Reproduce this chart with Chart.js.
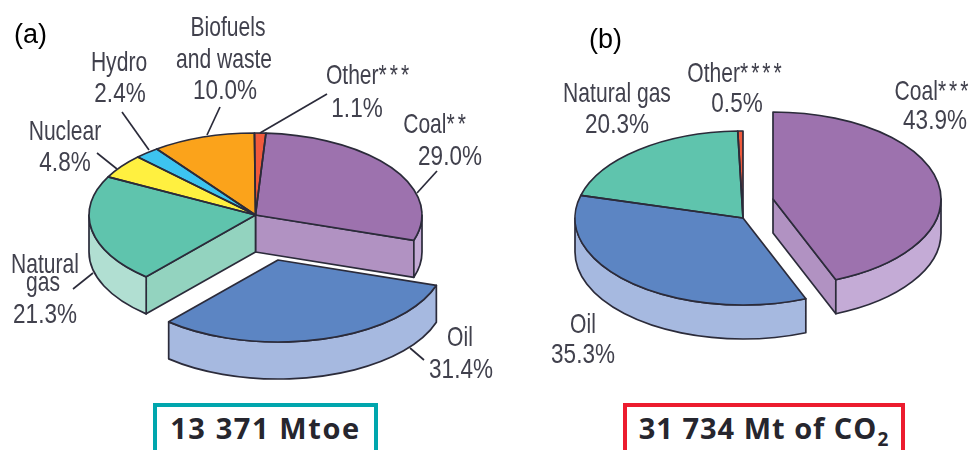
<!DOCTYPE html>
<html>
<head>
<meta charset="utf-8">
<title>Fuel shares</title>
<script src="https://cdn.jsdelivr.net/npm/chart.js@4"></script>
<style>
html, body { margin: 0; padding: 0; background: #fff; overflow: hidden; }
#page { position: relative; width: 975px; height: 450px; overflow: hidden; }
canvas { position: absolute; top: 0; }
#overlay { position: absolute; left: 0; top: 0; }
.lbl { font-family: "Liberation Sans", sans-serif; font-size: 28.5px; fill: #41414d; text-anchor: middle; }
.tag { font-family: "Liberation Sans", sans-serif; font-size: 27px; fill: #000; }
.total { position: absolute; top: 403px; height: 60px; box-sizing: border-box; background: #fff;
  font-family: "Open Sans", "Noto Sans", sans-serif; font-weight: 700; font-size: 29px; color: #26262e;
  text-align: center; line-height: 42px; letter-spacing: 1px; white-space: nowrap; }
.total sub { font-size: 19px; line-height: 0; }
</style>
</head>
<body>
<div id="page">
  <canvas id="pieA" width="511" height="450" style="left:0"></canvas>
  <canvas id="pieB" width="460" height="450" style="left:513px"></canvas>
  <svg id="overlay" width="975" height="450"></svg>
  <div class="total" style="left:153px;width:225px;border:4px solid #00a6ad;letter-spacing:1.6px">13 371 Mtoe</div>
  <div class="total" style="left:623px;width:282px;border:4px solid #ec1c2e">31 734 Mt of CO<sub>2</sub></div>
</div>
<script>
// (a) total primary energy supply
var categoriesA = ['Coal**', 'Oil', 'Natural gas', 'Nuclear', 'Hydro', 'Biofuels and waste', 'Other***'];
var valuesA = [29.0, 31.4, 21.3, 4.8, 2.4, 10.0, 1.1];
var coloursA = ['#9d72ae', '#5c85c3', '#5fc4ad', '#fff040', '#3dc4f0', '#fba31b', '#f05a3c'];
var wallsA = ['#c4abd6', '#a6b9e0', '#b1dfd2', '#fff040', '#3dc4f0', '#fba31b', '#f05a3c'];
var cutsA = ['#b192c2', '#a6b9e0', '#93d3bf', '#fff040', '#3dc4f0', '#fba31b', '#f05a3c'];

// (b) CO2 emissions
var categoriesB = ['Coal***', 'Oil', 'Natural gas', 'Other****'];
var valuesB = [43.9, 35.3, 20.3, 0.5];
var coloursB = ['#9d72ae', '#5c85c3', '#5fc4ad', '#f05a3c'];
var wallsB = ['#c4abd6', '#a6b9e0', '#b1dfd2', '#f05a3c'];
var cutsB = ['#b192c2', '#a6b9e0', '#93d3bf', '#f05a3c'];

var OUTLINE = '#2b2b3a';
var OUTLINE_W = 1.7;

// squashes the flat pie into an ellipse and gives it a wall, all from the arc elements
function pie3d(cfg) {
    function centre(chart) {
        return (chart.chartArea.top + chart.chartArea.bottom) / 2;
    }
    function tracePath(ctx, chart, arc) {
        var x = arc.x;
        var y = cfg.cy + (arc.y - centre(chart)) * cfg.k;
        ctx.beginPath();
        ctx.moveTo(x, y);
        ctx.ellipse(x, y, arc.outerRadius, arc.outerRadius * cfg.k, 0, arc.startAngle, arc.endAngle);
        ctx.closePath();
    }
    function drawSides(ctx, chart, arc, i, n) {
        var x = arc.x;
        var y = cfg.cy + (arc.y - centre(chart)) * cfg.k;
        var rx = arc.outerRadius;
        var ry = rx * cfg.k;
        var startOpen = i === cfg.explode || (i + n - 1) % n === cfg.explode;
        var endOpen = i === cfg.explode || (i + 1) % n === cfg.explode;
        ctx.strokeStyle = OUTLINE;
        ctx.lineWidth = OUTLINE_W;
        ctx.lineJoin = 'round';
        // cut faces next to the pulled out slice that look towards the viewer
        [[arc.startAngle, startOpen && Math.cos(arc.startAngle) < 0], [arc.endAngle, endOpen && Math.cos(arc.endAngle) > 0]].forEach(function(edge) {
            if (!edge[1]) return;
            var ex = x + Math.cos(edge[0]) * rx;
            var ey = y + Math.sin(edge[0]) * ry;
            ctx.beginPath();
            ctx.moveTo(x, y);
            ctx.lineTo(ex, ey);
            ctx.lineTo(ex, ey + cfg.depth);
            ctx.lineTo(x, y + cfg.depth);
            ctx.closePath();
            ctx.fillStyle = cfg.cuts[i];
            ctx.fill();
            ctx.stroke();
        });
        // outer wall, front half only
        var a = Math.max(arc.startAngle, 0);
        var b = Math.min(arc.endAngle, Math.PI);
        if (b > a) {
            ctx.beginPath();
            ctx.ellipse(x, y, rx, ry, 0, a, b);
            ctx.ellipse(x, y + cfg.depth, rx, ry, 0, b, a, true);
            ctx.closePath();
            ctx.fillStyle = cfg.walls[i];
            ctx.fill();
            ctx.stroke();
        }
    }
    return {
        id: 'pie3d',
        afterDatasetsUpdate: function(chart) {
            var arc = chart.getDatasetMeta(0).data[cfg.explode];
            arc.x += cfg.dx;
            arc.y += cfg.dy / cfg.k;
        },
        beforeDatasetsDraw: function(chart) {
            var ctx = chart.ctx;
            var arcs = chart.getDatasetMeta(0).data;
            arcs.forEach(function(arc, i) {
                if (i !== cfg.explode) drawSides(ctx, chart, arc, i, arcs.length);
            });
            drawSides(ctx, chart, arcs[cfg.explode], cfg.explode, arcs.length);
            ctx.save();
            ctx.translate(0, cfg.cy);
            ctx.scale(1, cfg.k);
            ctx.translate(0, -centre(chart));
        },
        afterDatasetsDraw: function(chart) {
            var ctx = chart.ctx;
            ctx.restore();
            ctx.strokeStyle = OUTLINE;
            ctx.lineWidth = OUTLINE_W;
            ctx.lineJoin = 'round';
            chart.getDatasetMeta(0).data.forEach(function(arc) {
                tracePath(ctx, chart, arc);
                ctx.stroke();
            });
        }
    };
}

function makePie(id, labels, data, colours, radius, rotation, cfg) {
    return new Chart(document.getElementById(id).getContext('2d'), {
        type: 'pie',
        data: {
            labels: labels,
            datasets: [{
                data: data,
                backgroundColor: colours,
                borderWidth: 0,
                hoverOffset: 0,
                clip: false
            }]
        },
        options: {
            responsive: false,
            animation: false,
            events: [],
            radius: radius,
            rotation: rotation,
            layout: { padding: 0 },
            plugins: { legend: { display: false }, tooltip: { enabled: false } }
        },
        plugins: [pie3d(cfg)]
    });
}

Chart.defaults.devicePixelRatio = 1;
makePie('pieA', categoriesA, valuesA, coloursA, 166.5, 3.6,
    { cy: 215, k: 0.4925, depth: 37, explode: 1, dx: 22.5, dy: 45, walls: wallsA, cuts: cutsA });
makePie('pieB', categoriesB, valuesB, coloursB, 168, 0,
    { cy: 218, k: 0.518, depth: 34, explode: 0, dx: 30, dy: -19, walls: wallsB, cuts: cutsB });

// labels: text, centre x, baseline y
var pct = function(v) { return v.toFixed(1) + '%'; };
var labels = [
    ['Biofuels', 228, 36], ['and waste', 224, 68], [pct(valuesA[5]), 225, 99],
    ['Hydro', 119, 71], [pct(valuesA[4]), 120, 102],
    ['Nuclear', 65, 140], [pct(valuesA[3]), 65, 171],
    [categoriesA[6], 369, 84], [pct(valuesA[6]), 357, 117],
    [categoriesA[0], 436, 133], [pct(valuesA[0]), 450, 165],
    ['Natural', 45, 273], ['gas', 43, 291], [pct(valuesA[2]), 45, 323],
    [categoriesA[1], 460, 346], [pct(valuesA[1]), 461, 378],
    [categoriesB[2], 617, 102], [pct(valuesB[2]), 617, 133],
    [categoriesB[3], 736, 82], [pct(valuesB[3]), 737, 112],
    [categoriesB[0], 933, 100], [pct(valuesB[0]), 935, 129],
    [categoriesB[1], 583, 333], [pct(valuesB[1]), 583, 363]
];
var leaders = [
    [260, 133, 327, 94], [417, 193, 437, 171], [207, 135, 220, 107], [149, 150, 122, 112],
    [117, 169, 97, 153], [93, 273, 73, 289], [410, 348, 424, 360]
];
var svg = document.getElementById('overlay');
function add(name, attrs, text) {
    var el = document.createElementNS('http://www.w3.org/2000/svg', name);
    for (var k in attrs) el.setAttribute(k, attrs[k]);
    if (text) el.textContent = text;
    svg.appendChild(el);
    return el;
}
leaders.forEach(function(l) {
    add('line', { x1: l[0], y1: l[1], x2: l[2], y2: l[3], stroke: OUTLINE, 'stroke-width': OUTLINE_W });
});
labels.forEach(function(l) {
    // the book's face is a narrow one, none is installed so squeeze it
    var sx = /\d/.test(l[0]) ? 0.79 : 0.74;
    var name = l[0].replace(/\*+$/, '');
    var stars = l[0].slice(name.length);
    var el = add('text', { 'class': 'lbl', transform: 'translate(' + l[1] + ' ' + l[2] + ') scale(' + sx + ' 1)' }, name);
    if (stars) {
        var t = document.createElementNS('http://www.w3.org/2000/svg', 'tspan');
        t.setAttribute('letter-spacing', '4');
        t.textContent = stars;
        el.appendChild(t);
    }
});
add('text', { 'class': 'tag', x: 14, y: 43 }, '(a)');
add('text', { 'class': 'tag', x: 589, y: 48 }, '(b)');
</script>
</body>
</html>
